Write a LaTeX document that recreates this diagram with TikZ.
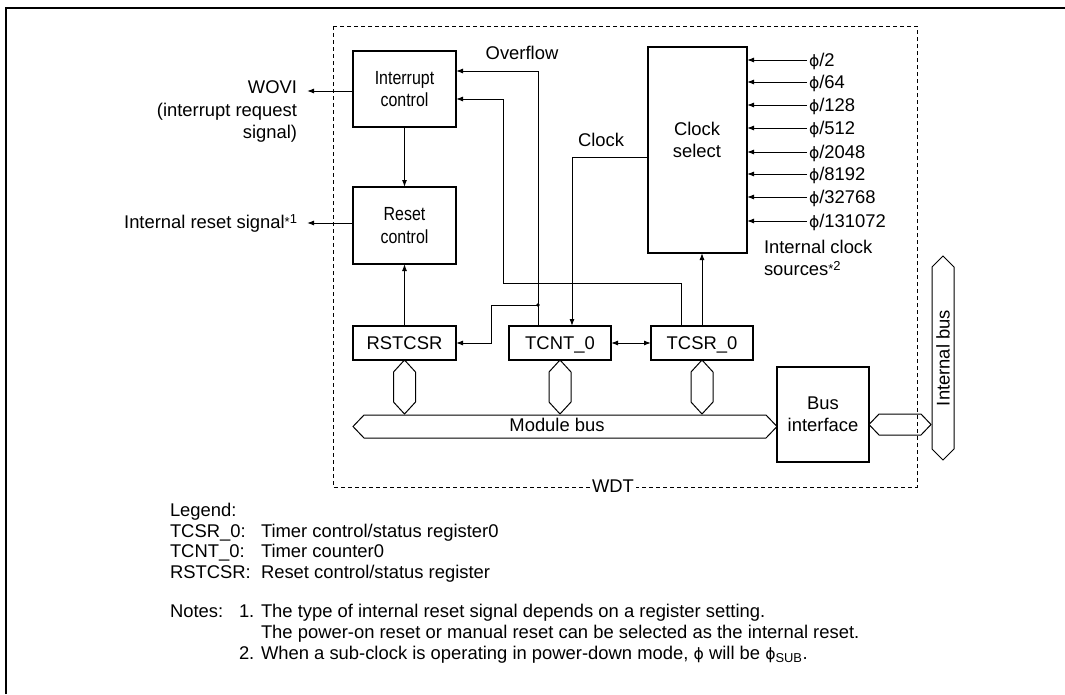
\documentclass[tikz,border=0pt]{standalone}
\usepackage{fontspec}
\setmainfont{Liberation Sans}
\newfontfamily\condfont{Liberation Sans}[FakeStretch=0.84]
\newfontfamily\phfont{DejaVu Sans}[Scale=0.85]
\usetikzlibrary{arrows.meta}
\newcommand\bigfnt{\fontsize{18.4}{22.5}\selectfont}
\newcommand\boxfnt{\condfont\fontsize{19}{22.5}\selectfont}
\newcommand\supfnt{\fontsize{13}{13}\selectfont}
\newcommand\starsup[1]{{\supfnt\raisebox{2pt}{*}\raisebox{5pt}{#1}}}
\newcommand\ph{{\phfont ϕ}}
\begin{document}
\begin{tikzpicture}[x=1pt,y=-1pt,
  every node/.style={font=\bigfnt,inner sep=0pt,outer sep=0pt},
  blk/.style={draw,line width=2.5pt,align=center},
  reg/.style={blk,text height=13pt,text depth=0pt},
  thin/.style={line width=1pt},
  arr/.style={thin,-{Latex[length=7pt,width=5pt]}},
  darr/.style={thin,{Latex[length=7pt,width=5pt]}-{Latex[length=7pt,width=5pt]}},
  hexbus/.style={thin,line join=miter},
  txt/.style={anchor=base west},
  rtxt/.style={anchor=base east},
]
\useasboundingbox (0,0) rectangle (1065,694);
\draw[line width=2pt] (6,694) -- (6,7.5) -- (1065,7.5);

% WDT frame
\draw[thin,dash pattern=on 4pt off 3pt] (333,26) rectangle (917,487);
\node[fill=white,inner xsep=2pt,inner ysep=1pt] (wdt) at (613,486) {WDT};

% blocks
\node[blk,font=\boxfnt,minimum width=103pt,minimum height=76pt] (intr) at (404.5,89) {Interrupt\\control};
\node[blk,font=\boxfnt,minimum width=103pt,minimum height=77pt] (rstc) at (404.5,225.5) {Reset\\control};
\node[blk,minimum width=99pt,minimum height=206pt] (csel) at (697.5,150) {};
\node[align=center] (cselt) at (697,140) {Clock\\select};
\node[reg,minimum width=103pt,minimum height=34pt] (rstcsr) at (404.5,343) {RSTCSR};
\node[reg,minimum width=102pt,minimum height=34pt] (tcnt) at (560,343) {TCNT\_0};
\node[reg,minimum width=102pt,minimum height=34pt] (tcsr) at (702,343) {TCSR\_0};
\node[blk,minimum width=92pt,minimum height=95pt] (bif) at (823,414.5) {Bus\\interface};

% outputs
\node[rtxt] (wovi1) at (297,93.5) {WOVI};
\node[rtxt] (wovi2) at (297,116) {(interrupt request};
\node[rtxt] (wovi3) at (297,138.5) {signal)};
\coordinate (woviend) at (307,91);
\draw[arr] (intr.west |- woviend) -- (woviend);
\node[rtxt] (irs) at (297,228.3) {Internal reset signal\starsup{1}};
\coordinate (irsend) at (307,223);
\draw[arr] (rstc.west |- irsend) -- (irsend);

\draw[arr] (intr.south) -- (rstc.north);
\draw[arr] (rstcsr.north) -- (rstc.south);

% overflow
\node (ovl) at (522,53) {Overflow};
\coordinate (ovb) at (538,71);
\draw[arr] (tcnt.north -| ovb) -- (ovb) -- (intr.east |- ovb);

% TCSR to interrupt control
\coordinate (tb1) at (681,283);
\coordinate (tb2) at (503,99);
\draw[arr] (tcsr.north -| tb1) -- (tb1) -- (tb1 -| tb2) -- (tb2) -- (intr.east |- tb2);

% junction to RSTCSR
\coordinate (jn) at (538,305);
\coordinate (rb) at (491,343);
\fill (jn) circle (1.8pt);
\draw[arr] (jn) -| (rb) -- (rstcsr.east);

% clock
\node (ckl) at (601,140) {Clock};
\coordinate (ckb) at (572,157);
\draw[arr] (csel.west |- ckb) -- (ckb) -- (tcnt.north -| ckb);
\draw[arr] (tcsr.north) -- (csel.south -| tcsr.north);
\draw[darr] (tcnt.east) -- (tcsr.west);

% clock inputs
\foreach \i/\yy/\t in {1/60/2, 2/82/64, 3/105/128, 4/128/512, 5/152/2048, 6/174/8192, 7/197/32768, 8/221/131072} {
  \node[anchor=west,inner xsep=2pt,text height=13pt,text depth=0pt] (ph\i) at (807,\yy) {\ph/\t};
  \draw[arr] (ph\i.west) -- (csel.east |- ph\i.west);
}
\node[txt] (ics1) at (764,253) {Internal clock};
\node[txt] (ics2) at (764,275.7) {sources\starsup{2}};

% buses
\foreach \n in {rstcsr,tcnt,tcsr}
  \draw[hexbus] (\n.south) -- ++(11,12) -- ++(0,30) -- ++(-11,12) -- ++(-11,-12) -- ++(0,-30) -- cycle;
\draw[hexbus] (353,426.5) -- (364,415) -- (766,415) -- (777,426.5) -- (766,438) -- (364,438) -- cycle;
\node (mbl) at (557,425) {Module bus};
\draw[hexbus] (869,424.5) -- (879,414) -- (921,414) -- (931,424.5) -- (921,435) -- (879,435) -- cycle;
\draw[hexbus] (943,256) -- (954,267) -- (954,449) -- (943,460) -- (932,449) -- (932,267) -- cycle;
\node[rotate=90] (ibl) at (943,358) {Internal bus};

% legend
\node[txt] (lg) at (170,516) {Legend:};
\node[txt] (lg1a) at (170,537) {TCSR\_0:};
\node[txt] (lg1b) at (261,537) {Timer control/status register0};
\node[txt] (lg2a) at (170,557.5) {TCNT\_0:};
\node[txt] (lg2b) at (261,557.5) {Timer counter0};
\node[txt] (lg3a) at (170,578) {RSTCSR:};
\node[txt] (lg3b) at (261,578) {Reset control/status register};
\node[txt] (n0) at (170,617) {Notes:};
\node[txt] (n1) at (239,617) {1.};
\node[txt] (n1a) at (261,617) {The type of internal reset signal depends on a register setting.};
\node[txt] (n1b) at (261,638) {The power-on reset or manual reset can be selected as the internal reset.};
\node[txt] (n2) at (239,659) {2.};
\node[txt] (n2a) at (261,659) {When a sub-clock is operating in power-down mode, \ph{} will be \ph\textsubscript{SUB}.};
\end{tikzpicture}
\end{document}
